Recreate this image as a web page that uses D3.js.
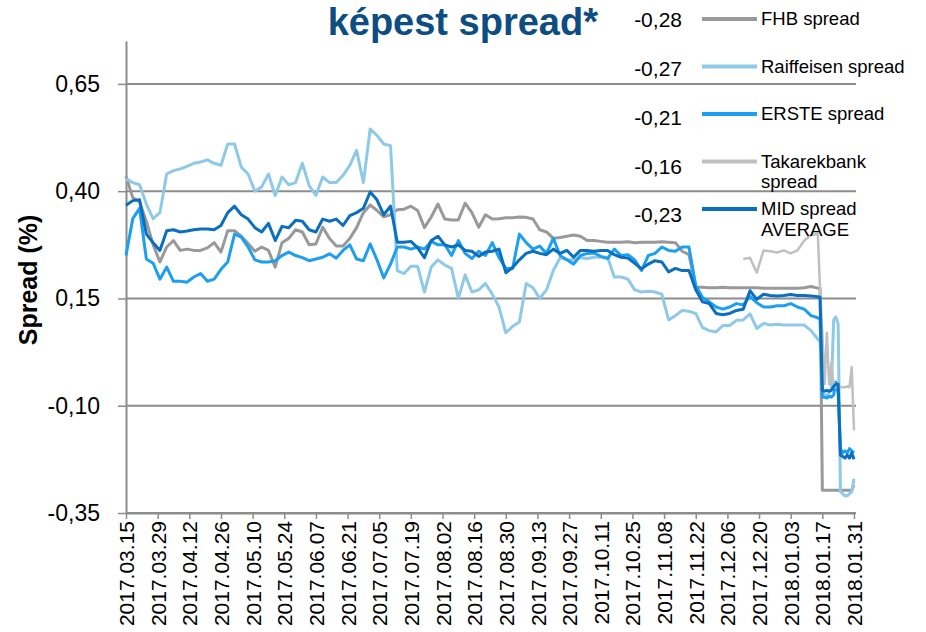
<!DOCTYPE html>
<html>
<head>
<meta charset="utf-8">
<script src="https://cdn.jsdelivr.net/npm/d3@7"></script>
<style>
  body { margin: 0; background: #fff; }
  svg { display: block; font-family: "Liberation Sans", Arial, sans-serif; }
</style>
</head>
<body>
<svg id="chart" width="926" height="632"></svg>
<script>
// sample dates (3-day steps, daily at the end of January)
const dates = [
  "2017-03-15","2017-03-18","2017-03-21","2017-03-24","2017-03-27","2017-03-30","2017-04-02","2017-04-05","2017-04-08","2017-04-11",
  "2017-04-14","2017-04-17","2017-04-20","2017-04-23","2017-04-26","2017-04-29","2017-05-02","2017-05-05","2017-05-08","2017-05-11",
  "2017-05-14","2017-05-17","2017-05-20","2017-05-23","2017-05-26","2017-05-29","2017-06-01","2017-06-04","2017-06-07","2017-06-10",
  "2017-06-13","2017-06-16","2017-06-19","2017-06-22","2017-06-25","2017-06-28","2017-07-01","2017-07-04","2017-07-07","2017-07-10",
  "2017-07-13","2017-07-16","2017-07-19","2017-07-22","2017-07-25","2017-07-28","2017-07-31","2017-08-03","2017-08-06","2017-08-09",
  "2017-08-12","2017-08-15","2017-08-18","2017-08-21","2017-08-24","2017-08-27","2017-08-30","2017-09-02","2017-09-05","2017-09-08",
  "2017-09-11","2017-09-14","2017-09-17","2017-09-20","2017-09-23","2017-09-26","2017-09-29","2017-10-02","2017-10-05","2017-10-08",
  "2017-10-11","2017-10-14","2017-10-17","2017-10-20","2017-10-23","2017-10-26","2017-10-29","2017-11-01","2017-11-04","2017-11-07",
  "2017-11-10","2017-11-13","2017-11-16","2017-11-19","2017-11-22","2017-11-25","2017-11-28","2017-12-01","2017-12-04","2017-12-07",
  "2017-12-10","2017-12-13","2017-12-16","2017-12-19","2017-12-22","2017-12-25","2017-12-28","2017-12-31","2018-01-03","2018-01-06",
  "2018-01-09","2018-01-12","2018-01-15","2018-01-16","2018-01-17","2018-01-18","2018-01-19","2018-01-20","2018-01-21","2018-01-22",
  "2018-01-23","2018-01-24","2018-01-25","2018-01-26","2018-01-27","2018-01-28","2018-01-29","2018-01-30","2018-01-31"
];

const fhb = [
  0.435,0.385,0.375,0.33,0.275,0.235,0.27,0.285,0.262,0.265,
  0.262,0.262,0.268,0.28,0.258,0.308,0.308,0.295,0.278,0.26,
  0.27,0.262,0.223,0.28,0.29,0.31,0.305,0.275,0.277,0.316,
  0.29,0.272,0.272,0.29,0.315,0.35,0.368,0.355,0.34,0.345,
  0.357,0.358,0.365,0.355,0.315,0.34,0.37,0.335,0.333,0.333,
  0.372,0.35,0.316,0.345,0.335,0.336,0.338,0.338,0.34,0.339,
  0.335,0.31,0.305,0.29,0.292,0.295,0.298,0.295,0.285,0.285,
  0.283,0.281,0.281,0.281,0.282,0.28,0.281,0.281,0.281,0.282,
  0.281,0.28,0.26,0.252,0.176,0.176,0.175,0.175,0.176,0.175,
  0.175,0.175,0.175,0.175,0.174,0.174,0.174,0.174,0.174,0.174,
  0.175,0.178,0.174,0.174,-0.297,-0.297,-0.297,-0.297,-0.297,-0.297,
  -0.297,-0.297,-0.297,-0.297,-0.297,-0.297,-0.297,-0.297,-0.285
];

const raiffeisen = [
  0.429,0.42,0.415,0.37,0.336,0.35,0.44,0.448,0.452,0.458,
  0.465,0.468,0.473,0.465,0.46,0.51,0.51,0.456,0.44,0.40,
  0.41,0.44,0.39,0.433,0.415,0.42,0.465,0.413,0.39,0.433,
  0.42,0.42,0.437,0.46,0.495,0.42,0.545,0.53,0.51,0.506,
  0.215,0.208,0.225,0.225,0.165,0.223,0.24,0.228,0.22,0.15,
  0.205,0.165,0.17,0.185,0.16,0.13,0.07,0.085,0.095,0.185,
  0.175,0.15,0.17,0.215,0.245,0.24,0.24,0.245,0.243,0.246,
  0.246,0.246,0.20,0.20,0.195,0.17,0.165,0.167,0.165,0.16,
  0.10,0.11,0.122,0.12,0.115,0.082,0.075,0.072,0.087,0.087,
  0.099,0.10,0.114,0.08,0.092,0.088,0.09,0.088,0.088,0.088,
  0.088,0.075,0.055,0.05,-0.07,-0.075,-0.075,-0.07,-0.06,0.1,
  0.107,0.09,-0.30,-0.305,-0.31,-0.31,-0.305,-0.30,-0.27
];

const erste = [
  0.25,0.336,0.36,0.242,0.232,0.195,0.223,0.19,0.19,0.188,
  0.2,0.208,0.19,0.195,0.218,0.235,0.3,0.293,0.27,0.24,
  0.235,0.235,0.238,0.25,0.258,0.25,0.245,0.238,0.242,0.246,
  0.254,0.244,0.262,0.275,0.242,0.238,0.277,0.24,0.198,0.23,
  0.27,0.27,0.265,0.27,0.265,0.283,0.275,0.275,0.25,0.285,
  0.255,0.243,0.26,0.25,0.28,0.245,0.22,0.22,0.3,0.28,
  0.265,0.272,0.255,0.29,0.25,0.24,0.23,0.25,0.255,0.256,
  0.248,0.243,0.265,0.25,0.252,0.24,0.215,0.25,0.255,0.27,
  0.262,0.26,0.27,0.27,0.18,0.152,0.142,0.13,0.125,0.13,
  0.138,0.135,0.155,0.14,0.13,0.13,0.133,0.133,0.138,0.13,
  0.125,0.11,0.105,0.10,-0.08,-0.08,-0.082,-0.078,-0.08,-0.075,
  -0.045,-0.07,-0.20,-0.21,-0.205,-0.21,-0.20,-0.205,-0.21
];

const takarekbank = [
  null,null,null,null,null,null,null,null,null,null,null,null,null,null,null,null,null,null,null,null,
  null,null,null,null,null,null,null,null,null,null,null,null,null,null,null,null,null,null,null,null,
  null,null,null,null,null,null,null,null,null,null,null,null,null,null,null,null,null,null,null,null,
  null,null,null,null,null,null,null,null,null,null,null,null,null,null,null,null,null,null,null,null,
  null,null,null,null,null,null,null,null,null,null,null,
  0.242,0.245,0.21,0.262,0.26,0.257,0.262,0.255,0.262,0.285,
  0.298,0.30,0.17,0.07,-0.05,0.07,-0.05,0.0,-0.055,-0.057,
  -0.057,-0.057,-0.057,-0.057,-0.055,-0.057,-0.01,-0.157
];

const mid = [
  0.367,0.378,0.38,0.30,0.28,0.262,0.308,0.31,0.305,0.307,
  0.31,0.312,0.312,0.31,0.32,0.35,0.365,0.345,0.335,0.315,
  0.305,0.325,0.285,0.318,0.315,0.332,0.33,0.31,0.305,0.335,
  0.33,0.335,0.32,0.343,0.35,0.36,0.398,0.38,0.345,0.365,
  0.281,0.281,0.283,0.268,0.245,0.285,0.295,0.275,0.27,0.275,
  0.262,0.26,0.248,0.258,0.26,0.265,0.21,0.222,0.24,0.255,
  0.26,0.255,0.252,0.265,0.255,0.262,0.246,0.262,0.262,0.26,
  0.262,0.262,0.252,0.246,0.244,0.232,0.219,0.23,0.238,0.235,
  0.212,0.22,0.215,0.215,0.17,0.142,0.138,0.115,0.112,0.115,
  0.122,0.125,0.168,0.148,0.16,0.157,0.156,0.157,0.159,0.157,
  0.157,0.156,0.154,0.153,-0.064,-0.066,-0.064,-0.066,-0.064,-0.055,
  -0.05,-0.05,-0.215,-0.218,-0.222,-0.215,-0.222,-0.21,-0.225
];

const seriesNames = [["FHB spread"], ["Raiffeisen spread"], ["ERSTE spread"], ["Takarekbank", "spread"], ["MID spread", "AVERAGE"]];
const legendValues = ["-0,28", "-0,27", "-0,21", "-0,16", "-0,23"];
const yTicks = [-0.35, -0.10, 0.15, 0.40, 0.65];
const xTicks = [
  "2017-03-15","2017-03-29","2017-04-12","2017-04-26","2017-05-10","2017-05-24","2017-06-07","2017-06-21",
  "2017-07-05","2017-07-19","2017-08-02","2017-08-16","2017-08-30","2017-09-13","2017-09-27","2017-10-11",
  "2017-10-25","2017-11-08","2017-11-22","2017-12-06","2017-12-20","2018-01-03","2018-01-17","2018-01-31"
];

const colors = ["#999999", "#8ecae8", "#1c9ff0", "#c0c0c0", "#0a6fbf"];
const widths = [3, 3, 3, 2.5, 3];
const allSeries = [fhb, raiffeisen, erste, takarekbank, mid];

const svg = d3.select("#chart");
const parse = d3.utcParse("%Y-%m-%d");
const fmt = d3.formatLocale({ decimal: ",", thousands: " ", grouping: [3], currency: ["", ""], minus: "-" }).format(".2f");

const x = d3.scaleUtc()
  .domain([parse("2017-03-15"), parse("2018-01-31")])
  .range([126, 854]);
const y = d3.scaleLinear().domain([-0.35, 0.75]).range([513, 41]);

// gridlines
svg.append("g")
  .selectAll("line")
  .data(yTicks)
  .join("line")
  .attr("x1", 126)
  .attr("x2", 856)
  .attr("y1", (d) => y(d))
  .attr("y2", (d) => y(d))
  .attr("stroke", "#8c8c8c")
  .attr("stroke-width", 2);

// y axis
const yAxis = svg.append("g")
  .attr("transform", "translate(126,0)")
  .call(d3.axisLeft(y).tickValues(yTicks).tickFormat(fmt).tickSize(8).tickSizeOuter(0).tickPadding(18));
yAxis.select(".domain").attr("stroke", "#8c8c8c").attr("stroke-width", 2);
yAxis.selectAll(".tick line").attr("stroke", "#8c8c8c").attr("stroke-width", 1.5);
yAxis.selectAll("text")
  .attr("font-size", 23)
  .attr("font-family", "Liberation Sans, Arial, sans-serif")
  .attr("fill", "#000");

// x axis
const xAxis = svg.append("g")
  .attr("transform", `translate(0,${y(-0.35)})`)
  .call(d3.axisBottom(x).tickValues(xTicks.map(parse)).tickFormat(d3.utcFormat("%Y.%m.%d")).tickSize(6).tickSizeOuter(0));
xAxis.select(".domain").attr("stroke", "#8c8c8c").attr("stroke-width", 2);
xAxis.selectAll(".tick line").attr("stroke", "#8c8c8c").attr("stroke-width", 1.5);
xAxis.selectAll("text")
  .attr("font-size", 21)
  .attr("font-family", "Liberation Sans, Arial, sans-serif")
  .attr("fill", "#000")
  .attr("transform", "rotate(-90)")
  .attr("text-anchor", "end")
  .attr("x", -8)
  .attr("y", 0)
  .attr("dy", "0.36em");

// series
const line = d3.line()
  .defined((d) => d[1] != null)
  .x((d) => x(parse(d[0])))
  .y((d) => y(d[1]));

svg.append("g")
  .selectAll("path")
  .data(allSeries)
  .join("path")
  .attr("fill", "none")
  .attr("stroke", (_, i) => colors[i])
  .attr("stroke-width", (_, i) => widths[i])
  .attr("stroke-linejoin", "round")
  .attr("d", (s) => line(s.map((v, i) => [dates[i], v])));

// title
svg.append("text")
  .attr("x", 598)
  .attr("y", 35)
  .attr("text-anchor", "end")
  .attr("font-size", 38)
  .attr("font-weight", "bold")
  .attr("fill", "#0d4d82")
  .text("képest spread*");

// y label
svg.append("text")
  .attr("transform", "translate(37,280) rotate(-90)")
  .attr("text-anchor", "middle")
  .attr("font-size", 25)
  .attr("font-weight", "bold")
  .text("Spread (%)");

// legend
const legend = svg.append("g");
legend.selectAll(".val")
  .data(legendValues)
  .join("text")
  .attr("class", "val")
  .attr("x", 682)
  .attr("y", (_, i) => 20 + i * 48.75)
  .attr("dy", "0.35em")
  .attr("text-anchor", "end")
  .attr("font-size", 21)
  .text((d) => d);

const items = legend.selectAll(".item")
  .data(seriesNames)
  .join("g")
  .attr("class", "item")
  .attr("transform", (_, i) => `translate(0,${19 + i * 47.5})`);
items.append("line")
  .attr("x1", 702)
  .attr("x2", 757)
  .attr("stroke", (_, i) => colors[i])
  .attr("stroke-width", 4);
items.selectAll("text")
  .data((d) => d)
  .join("text")
  .attr("x", 761)
  .attr("y", (_, j) => j * 20.5)
  .attr("dy", "0.35em")
  .attr("font-size", 18.5)
  .text((d) => d);
</script>
</body>
</html>
